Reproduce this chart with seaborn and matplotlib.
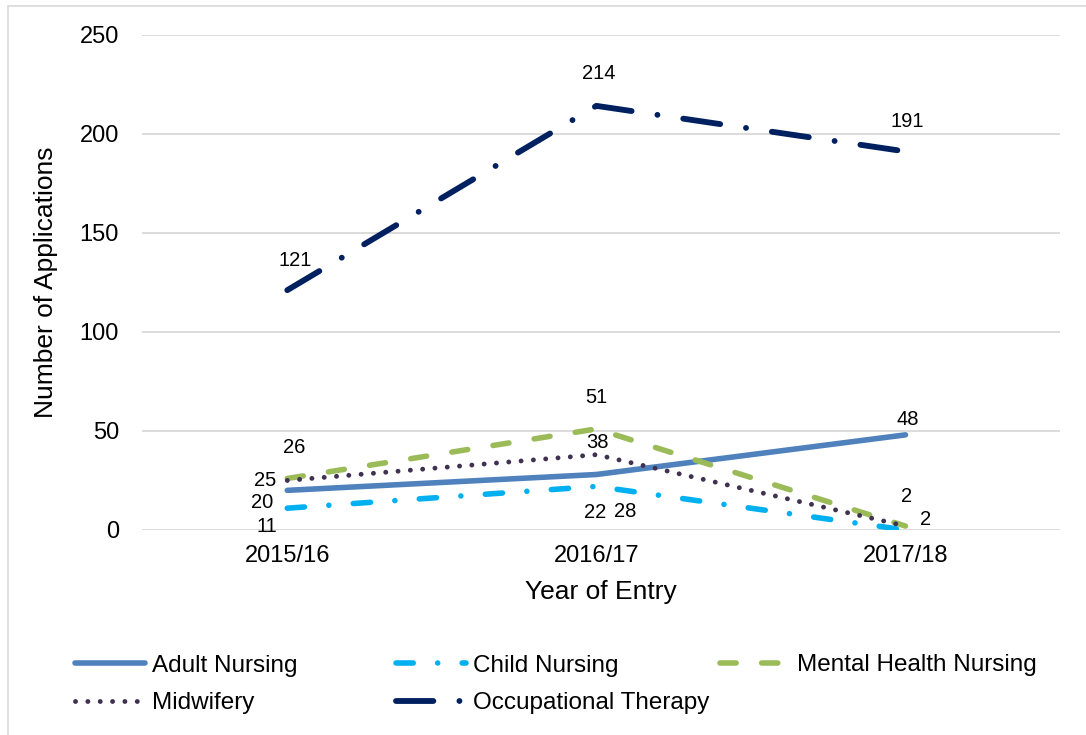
import matplotlib
matplotlib.use("Agg")
import matplotlib.pyplot as plt
import pandas as pd
import seaborn as sns
from matplotlib.patches import Rectangle

# Data
years = ["2015/16", "2016/17", "2017/18"]
adult_nursing = [20, 28, 48]
child_nursing = [11, 22, 0]
mental_health_nursing = [26, 51, 2]
midwifery = [25, 38, 2]
occupational_therapy = [121, 214, 191]

courses = ["Adult Nursing", "Child Nursing", "Mental Health Nursing", "Midwifery", "Occupational Therapy"]
values = [adult_nursing, child_nursing, mental_health_nursing, midwifery, occupational_therapy]
shown_labels = [[True, True, True], [True, True, False], [True, True, True], [True, True, True], [True, True, True]]

df = pd.DataFrame({
    "Year": years * len(courses),
    "Course": [c for c in courses for _ in years],
    "Applications": [v for vals in values for v in vals],
})

# Line styles (dash patterns in linewidth units)
styles = {
    "Adult Nursing": dict(color="#4f81bd", linewidth=4.0, linestyle="-"),
    "Child Nursing": dict(color="#00b0f0", linewidth=4.0, linestyle=(0, (3.1, 4.4, 0.01, 4.4))),
    "Mental Health Nursing": dict(color="#9bbb59", linewidth=4.0, linestyle=(0, (2.9, 4.6))),
    "Midwifery": dict(color="#403151", linewidth=3.5, linestyle=(0, (0.01, 2.53))),
    "Occupational Therapy": dict(color="#002060", linewidth=4.2, linestyle=(0, (6.4, 4.47, 0.01, 4.47))),
}

# label offsets in pixels (dx right, dy down) from each point
label_offsets = {
    "Adult Nursing": [(-25, 12), (29, 37), (2, -15)],
    "Child Nursing": [(-20, 18), (-1, 26), (0, 0)],
    "Mental Health Nursing": [(7, -31), (0, -31), (1, -30)],
    "Midwifery": [(-22, 0), (1, -12), (20, -7)],
    "Occupational Therapy": [(8, -30), (2, -32), (2, -30)],
}

sns.set_style("white")
plt.rcParams["font.family"] = ["Liberation Sans", "DejaVu Sans"]
plt.rcParams["lines.solid_capstyle"] = "round"
plt.rcParams["lines.dash_capstyle"] = "round"

W, H = 1086, 735
fig = plt.figure(figsize=(W / 100, H / 100), dpi=100)
ax = fig.add_axes([142 / W, (H - 530) / H, 918 / W, 495.5 / H])

for course in courses:
    sub = df[df["Course"] == course]
    sns.lineplot(data=sub, x="Year", y="Applications", ax=ax, sort=False, label=course, **styles[course])

# data labels
for course, vals, shown in zip(courses, values, shown_labels):
    for i, (v, s) in enumerate(zip(vals, shown)):
        if not s:
            continue
        dx, dy = label_offsets[course][i]
        ax.annotate(str(v), (i, v), xytext=(dx * 0.72, -dy * 0.72), textcoords="offset points",
                    ha="center", va="center", fontsize=14.5, color="black")

ax.set_xlim(-0.47, 2.5)
ax.set_ylim(0, 250)
ax.set_yticks([0, 50, 100, 150, 200, 250])
ax.yaxis.grid(True, color="#d9d9d9", linewidth=1.3)
ax.xaxis.grid(False)
ax.set_axisbelow(True)
sns.despine(ax=ax, left=True, bottom=True)
ax.tick_params(axis="both", length=0, labelsize=17, colors="black")
ax.tick_params(axis="y", pad=16.5)
ax.tick_params(axis="x", pad=11)

ax.set_xlabel("Year of Entry", fontsize=19, color="black")
ax.set_ylabel("Number of Applications", fontsize=19, color="black")
ax.xaxis.set_label_coords(0.5, -0.1)
ax.yaxis.set_label_coords(-0.092, 0.5)

# legend laid out in three columns, Excel style
handles, labels = ax.get_legend_handles_labels()
ax.get_legend().remove()
hmap = dict(zip(labels, handles))
columns = [(["Adult Nursing", "Midwifery"], 75, 684.5),
           (["Child Nursing", "Occupational Therapy"], 396, 684.5),
           (["Mental Health Nursing"], 720, 665)]
for names, x, y in columns:
    fig.legend([hmap[n] for n in names], names, loc="center left", bbox_to_anchor=(x / W, 1 - y / H),
               frameon=False, fontsize=17.5, handlelength=2.9, handletextpad=0.25,
               borderaxespad=0, borderpad=0, labelspacing=0.62, labelcolor="black")

# thin chart-area border
fig.add_artist(Rectangle((8 / W, -0.1), 1.2, 1 - 6 / H + 0.1, transform=fig.transFigure,
                         fill=False, edgecolor="#d9d9d9", linewidth=1.2))

fig.savefig("out.png", dpi=100)
